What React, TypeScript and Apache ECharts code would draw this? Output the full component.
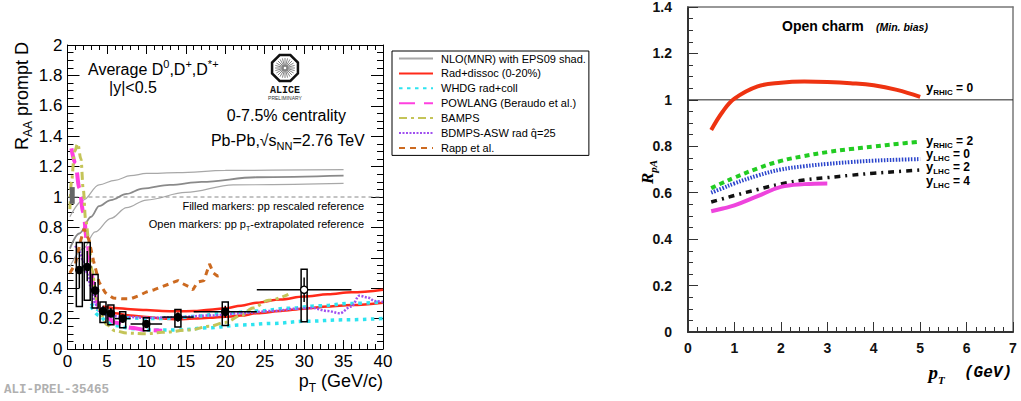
import { useEffect, useRef } from "react";
import * as echarts from "echarts";

const SANS = "'Liberation Sans', Arial, Helvetica, sans-serif";
const MONO = "'Liberation Mono', 'DejaVu Sans Mono', monospace";
const SERIF = "'Liberation Serif', 'DejaVu Serif', serif";

// ---------- Left panel: prompt D-meson R_AA, Pb-Pb 0-7.5% ----------
const ptCenter = [1.5, 2.5, 3.5, 4.5, 5.5, 7, 10, 14, 20, 30];
const ptHalfWidth = [0.5, 0.5, 0.5, 0.5, 0.5, 1, 2, 2, 4, 6];
const raaValue = [0.52, 0.545, 0.39, 0.255, 0.24, 0.2, 0.165, 0.21, 0.245, 0.39];
const raaStat = [0.12, 0.1, 0.05, 0.03, 0.03, 0.02, 0.025, 0.03, 0.04, 0.08];
const raaSysLow = [0.28, 0.32, 0.27, 0.175, 0.16, 0.14, 0.12, 0.145, 0.155, 0.18];
const raaSysHigh = [0.7, 0.7, 0.49, 0.31, 0.29, 0.245, 0.205, 0.26, 0.31, 0.525];
const openMarker = [0, 0, 0, 0, 0, 0, 0, 0, 0, 1];

// normalisation uncertainty at unity
const normBox = [[0.6, 0.955, 1.065]];

const nloUpper: number[][] = [[0.3, 0.87], [2, 0.98], [4, 1.08], [6, 1.11], [8, 1.14], [10, 1.155], [14, 1.16], [20, 1.175], [35, 1.18]];
const nloCentral: number[][] = [[0.3, 0.66], [1.5, 0.76], [3, 0.87], [4, 0.94], [5.5, 0.98], [7.5, 1.02], [9.5, 1.055], [13, 1.08], [17, 1.1], [24, 1.13], [35, 1.14]];
const nloLower: number[][] = [[0.3, 0.54], [2, 0.66], [3.5, 0.77], [5.5, 0.86], [7.5, 0.93], [10, 0.98], [15, 1.03], [21, 1.08], [35, 1.09]];
const unityLine: number[][] = [[0, 1], [40, 1]];

const radDissocUpper: number[][] = [[4.5, 0.28], [6, 0.27], [8, 0.262], [10, 0.256], [12, 0.25], [14, 0.248], [16, 0.25], [18, 0.258], [20, 0.268], [22, 0.285], [24, 0.305], [27, 0.325], [30, 0.345], [33, 0.36], [36, 0.373], [40, 0.39]];
const radDissocLower: number[][] = [[4.5, 0.255], [6, 0.235], [8, 0.22], [10, 0.21], [12, 0.2], [14, 0.195], [16, 0.2], [18, 0.205], [20, 0.212], [22, 0.22], [24, 0.235], [27, 0.25], [30, 0.265], [33, 0.28], [36, 0.29], [40, 0.305]];
const whdgUpper: number[][] = [[3, 0.3], [4, 0.255], [5, 0.23], [6, 0.215], [8, 0.205], [10, 0.2], [12, 0.2], [14, 0.205], [16, 0.215], [20, 0.235], [24, 0.25], [28, 0.268], [32, 0.285], [36, 0.3], [40, 0.31]];
const whdgLower: number[][] = [[3, 0.28], [4, 0.22], [5, 0.18], [6, 0.155], [8, 0.135], [10, 0.125], [14, 0.125], [18, 0.14], [22, 0.158], [26, 0.168], [30, 0.182], [35, 0.192], [40, 0.2]];
const powlang: number[][] = [[0.5, 1.32], [1, 1.22], [1.5, 1.06], [2, 0.9], [2.5, 0.7], [3, 0.5], [3.5, 0.35], [4, 0.27], [5, 0.21], [6, 0.175], [8, 0.14], [10, 0.125], [12, 0.12]];
const bamps: number[][] = [[0.3, 0.92], [0.5, 1.1], [0.9, 1.3], [1.3, 1.35], [1.7, 1.25], [2, 1.05], [2.3, 0.85], [2.7, 0.72], [3.1, 0.52], [3.7, 0.32], [4.3, 0.22], [5, 0.16], [6, 0.12], [7.5, 0.105], [10, 0.1], [12, 0.11], [15.5, 0.125], [18, 0.15], [20, 0.175], [22, 0.22], [23.5, 0.27], [25.5, 0.32], [28, 0.36]];
const bdmpsAsw: number[][] = [[1, 0.68], [1.5, 0.64], [2, 0.58], [2.5, 0.5], [3, 0.4], [3.5, 0.3], [4, 0.25], [5, 0.225], [6, 0.215], [8, 0.21], [10, 0.205], [14, 0.21], [18, 0.22], [22, 0.235], [26, 0.25], [29, 0.265], [31, 0.27], [33, 0.25], [34.5, 0.235], [36, 0.28], [37, 0.35], [38, 0.34], [39, 0.315], [40, 0.31]];
const rapp: number[][] = [[0.3, 0.5], [1, 0.56], [1.6, 0.7], [2.1, 0.79], [2.7, 0.72], [3.3, 0.58], [4, 0.44], [4.8, 0.37], [5.8, 0.335], [7, 0.33], [8, 0.33], [9, 0.35], [10, 0.375], [11, 0.39], [12, 0.41], [13, 0.43], [14, 0.45], [14.6, 0.43], [15.4, 0.41], [15.9, 0.39], [16.5, 0.44], [17.3, 0.45], [18, 0.56], [18.5, 0.5], [19, 0.48], [19.7, 0.49]];

const modelNames = [
  "NLO(MNR) with EPS09 shad.",
  "Rad+dissoc (0-20%)",
  "WHDG rad+coll",
  "POWLANG (Beraudo et al.)",
  "BAMPS",
  "BDMPS-ASW rad q\u0302=25",
  "Rapp et al.",
];

// ---------- Right panel: open charm R_pA ----------
const pAPt = [0.5, 0.75, 1, 1.5, 2, 2.5, 3, 3.5, 4, 4.5, 5];
const rpaRhicY0 = [0.87, 0.95, 1.005, 1.058, 1.074, 1.079, 1.077, 1.072, 1.063, 1.043, 1.013];
const rpaRhicY2 = [0.62, 0.643, 0.665, 0.705, 0.737, 0.758, 0.775, 0.788, 0.799, 0.81, 0.82];
const rpaLhcY0 = [0.6, 0.62, 0.64, 0.674, 0.7, 0.714, 0.724, 0.732, 0.738, 0.742, 0.745];
const rpaLhcY2 = [0.56, 0.574, 0.588, 0.614, 0.638, 0.655, 0.665, 0.675, 0.684, 0.691, 0.698];
const rpaLhcY4 = [0.52, 0.532, 0.545, 0.585, 0.625, 0.637, 0.64];

type Piece = { t: string; size: number; weight?: string; style?: string; dy?: number; dx?: number; family?: string; color?: string };

let measureCtx: CanvasRenderingContext2D | null = null;
function measure(p: Piece): number {
  if (!measureCtx) measureCtx = document.createElement("canvas").getContext("2d");
  const c = measureCtx!;
  c.font = `${p.style || "normal"} ${p.weight || "normal"} ${p.size}px ${p.family || SANS}`;
  return c.measureText(p.t).width;
}

// lays out a line of text pieces (sub/superscripts) on a common baseline
function textRun(pieces: Piece[], x0: number, baseline: number, align: "left" | "right" | "center" = "left") {
  const total = pieces.reduce((s, p) => s + measure(p) + (p.dx || 0), 0);
  let x = align === "left" ? x0 : align === "right" ? x0 - total : x0 - total / 2;
  const out: any[] = [];
  pieces.forEach((p) => {
    x += p.dx || 0;
    out.push({
      type: "text",
      x,
      y: baseline + (p.dy || 0) - 0.35 * p.size,
      silent: true,
      style: {
        text: p.t,
        fontSize: p.size,
        lineHeight: Math.round(p.size * 0.85),
        fontWeight: p.weight || "normal",
        fontStyle: p.style || "normal",
        fontFamily: p.family || SANS,
        fill: p.color || "#000",
        align: "left",
        verticalAlign: "middle",
      },
    });
    x += measure(p);
  });
  return out;
}

function aliceLogo(cx: number, cy: number, r: number) {
  const pts: number[][] = [];
  for (let i = 0; i < 8; i++) {
    const a = Math.PI / 8 + (i * Math.PI) / 4;
    pts.push([cx + r * Math.cos(a), cy + r * Math.sin(a)]);
  }
  const rays: any[] = [];
  for (let i = 0; i < 24; i++) {
    const a = (i * Math.PI) / 12;
    rays.push({
      type: "line",
      silent: true,
      shape: { x1: cx + 1.5 * Math.cos(a), y1: cy + 1.5 * Math.sin(a), x2: cx + (r - 4) * Math.cos(a), y2: cy + (r - 4) * Math.sin(a) },
      style: { stroke: "#666", lineWidth: 0.8 },
    });
  }
  return [
    { type: "polygon", silent: true, shape: { points: pts }, style: { fill: "#fff", stroke: "#111", lineWidth: 2.5 } },
    ...rays,
    { type: "text", silent: true, x: cx, y: cy + r + 8, style: { text: "ALICE", fontSize: 10, fontWeight: "bold", fontFamily: MONO, fill: "#111", align: "center", verticalAlign: "middle" } },
    { type: "text", silent: true, x: cx, y: cy + r + 16, style: { text: "PRELIMINARY", fontSize: 5, fontFamily: SANS, fill: "#333", align: "center", verticalAlign: "middle" } },
  ];
}

function lineSeries(name: string, data: number[][], color: string, width: number, type: any, axis: number, extra: any = {}) {
  return {
    name,
    type: "line",
    data,
    xAxisIndex: axis,
    yAxisIndex: axis,
    symbol: "none",
    showSymbol: false,
    smooth: 0.35,
    smoothMonotone: "x",
    lineStyle: { color, width, type, cap: "butt" },
    itemStyle: { color },
    emphasis: { disabled: true },
    ...extra,
  };
}

export default function App() {
  const ref = useRef<HTMLDivElement>(null);

  useEffect(() => {
    document.body.style.margin = "0";
    if (!ref.current) return;
    const chart = echarts.init(ref.current, null, { renderer: "svg" });

    const points = ptCenter.map((x, i) => [x, raaValue[i], ptHalfWidth[i], raaStat[i], raaSysLow[i], raaSysHigh[i], openMarker[i]]);

    const leftAxisBase = {
      type: "value",
      gridIndex: 0,
      splitLine: { show: false },
      minorSplitLine: { show: false },
      axisLine: { onZero: false, lineStyle: { color: "#000", width: 1 } },
    };
    const rightAxisBase = {
      type: "value",
      gridIndex: 1,
      splitLine: { show: false },
      minorSplitLine: { show: false },
    };
    const tickLabel = { fontSize: 17, lineHeight: 14, color: "#000", fontFamily: SANS };
    const boldLabel = { fontSize: 14, lineHeight: 12, color: "#111", fontFamily: SANS, fontWeight: "bold" };
    const rightPanelCurve = { smooth: 0.4, smoothMonotone: undefined };

    const graphics: any[] = [
      // left panel y title
      { type: "group", x: 28, y: 150, rotation: Math.PI / 2, children: textRun([{ t: "R", size: 18 }, { t: "AA", size: 12, dy: 4 }, { t: " prompt D", size: 18 }], 0, 0) },
      // left panel x title
      ...textRun([{ t: "p", size: 18 }, { t: "T", size: 12, dy: 5 }, { t: " (GeV/c)", size: 18 }], 383, 387, "right"),
      ...textRun([{ t: "Average D", size: 16 }, { t: "0", size: 11, dy: -7 }, { t: ",D", size: 16 }, { t: "+", size: 11, dy: -7 }, { t: ",D", size: 16 }, { t: "*+", size: 11, dy: -7 }], 88, 75),
      ...textRun([{ t: "|y|<0.5", size: 16 }], 133, 93, "center"),
      ...textRun([{ t: "0-7.5% centrality", size: 16 }], 346, 121, "right"),
      ...textRun([{ t: "Pb-Pb,", size: 16 }, { t: "\u221a", size: 16 }, { t: "s", size: 16 }, { t: "NN", size: 11, dy: 4 }, { t: "=2.76 TeV", size: 16 }], 365, 146, "right"),
      ...textRun([{ t: "Filled markers: pp rescaled reference", size: 11 }], 364, 210, "right"),
      ...textRun([{ t: "Open markers: pp p", size: 11 }, { t: "T", size: 7, dy: 3 }, { t: "-extrapolated reference", size: 11 }], 364, 228, "right"),
      ...textRun([{ t: "ALI-PREL-35465", size: 12.5, weight: "bold", family: MONO, color: "#b0b0b0" }], 4, 394),
      ...aliceLogo(285, 68, 14),
      // right panel titles
      ...textRun([{ t: "Open charm", size: 14, weight: "bold" }], 782, 31),
      ...textRun([{ t: "(Min. bias)", size: 10.5, weight: "bold", style: "italic" }], 876, 31),
      { type: "group", x: 653, y: 184, rotation: Math.PI / 2, children: textRun([{ t: "R", size: 17, weight: "bold", style: "italic", family: SERIF }, { t: "pA", size: 11, weight: "bold", style: "italic", family: SERIF, dy: 4 }], 0, 0) },
      ...textRun([{ t: "p", size: 19, weight: "bold", style: "italic", family: SERIF }, { t: "T", size: 11, weight: "bold", style: "italic", family: SERIF, dy: 5 }, { t: "  (GeV)", size: 16, weight: "bold", style: "italic", family: MONO }], 1012, 379, "right"),
      // curve labels
      ...textRun([{ t: "y", size: 13, weight: "bold" }, { t: "RHIC", size: 8, weight: "bold", dy: 3 }, { t: " = 0", size: 12, weight: "bold" }], 926, 92),
      ...textRun([{ t: "y", size: 13, weight: "bold" }, { t: "RHIC", size: 8, weight: "bold", dy: 3 }, { t: " = 2", size: 12, weight: "bold" }], 926, 145),
      ...textRun([{ t: "y", size: 13, weight: "bold" }, { t: "LHC", size: 8, weight: "bold", dy: 3 }, { t: " = 0", size: 12, weight: "bold" }], 926, 158),
      ...textRun([{ t: "y", size: 13, weight: "bold" }, { t: "LHC", size: 8, weight: "bold", dy: 3 }, { t: " = 2", size: 12, weight: "bold" }], 926, 171),
      ...textRun([{ t: "y", size: 13, weight: "bold" }, { t: "LHC", size: 8, weight: "bold", dy: 3 }, { t: " = 4", size: 12, weight: "bold" }], 926, 185),
    ];

    const option: any = {
      animation: false,
      backgroundColor: "#fff",
      grid: [
        { left: 67.5, top: 45, width: 315.5, height: 304, outerBoundsMode: "none" },
        { left: 688, top: 7, width: 325, height: 325, outerBoundsMode: "none" },
      ],
      legend: {
        orient: "vertical",
        left: 392,
        top: 51,
        itemWidth: 34,
        itemHeight: 12,
        itemGap: 3.9,
        padding: [2, 3, 2, 6],
        borderColor: "#000",
        borderWidth: 1,
        backgroundColor: "#fff",
        selectedMode: false,
        data: modelNames,
        itemStyle: { color: "rgba(0,0,0,0)", borderWidth: 0, opacity: 0 },
        textStyle: { fontSize: 11, fontFamily: SANS, color: "#000", padding: [0, 0, 0, 3] },
      },
      xAxis: [
        { ...leftAxisBase, min: 0, max: 40, interval: 5, position: "bottom", axisTick: { inside: true, length: 9, lineStyle: { color: "#000" } }, minorTick: { show: true, splitNumber: 5, length: 5, lineStyle: { color: "#000" } }, axisLabel: { ...tickLabel, margin: 5 } },
        { ...leftAxisBase, min: 0, max: 40, interval: 5, position: "top", axisTick: { inside: true, length: 9, lineStyle: { color: "#000" } }, minorTick: { show: true, splitNumber: 5, length: 5, lineStyle: { color: "#000" } }, axisLabel: { show: false } },
        { ...rightAxisBase, min: 0, max: 7, interval: 1, position: "bottom", axisLine: { onZero: false, lineStyle: { color: "#333", width: 2 } }, axisTick: { inside: true, length: 10, lineStyle: { color: "#333" } }, minorTick: { show: true, splitNumber: 5, length: 5, lineStyle: { color: "#333" } }, axisLabel: { ...boldLabel, margin: 10 } },
        { ...rightAxisBase, min: 0, max: 7, position: "top", axisLine: { onZero: false, lineStyle: { color: "#777", width: 1.5 } }, axisTick: { show: false }, axisLabel: { show: false } },
      ],
      yAxis: [
        { ...leftAxisBase, min: 0, max: 2, interval: 0.2, position: "left", axisTick: { inside: true, length: 12, lineStyle: { color: "#000" } }, minorTick: { show: true, splitNumber: 4, length: 6, lineStyle: { color: "#000" } }, axisLabel: { ...tickLabel, margin: 5 } },
        { ...leftAxisBase, min: 0, max: 2, interval: 0.2, position: "right", axisTick: { inside: true, length: 12, lineStyle: { color: "#000" } }, minorTick: { show: true, splitNumber: 4, length: 6, lineStyle: { color: "#000" } }, axisLabel: { show: false } },
        { ...rightAxisBase, min: 0, max: 1.4, interval: 0.2, position: "left", axisLine: { onZero: false, lineStyle: { color: "#333", width: 2 } }, axisTick: { inside: true, length: 10, lineStyle: { color: "#333" } }, minorTick: { show: true, splitNumber: 4, length: 5, lineStyle: { color: "#333" } }, axisLabel: { ...boldLabel, margin: 16 } },
        { ...rightAxisBase, min: 0, max: 1.4, position: "right", axisLine: { onZero: false, lineStyle: { color: "#777", width: 1.5 } }, axisTick: { show: false }, axisLabel: { show: false } },
      ],
      series: [
        lineSeries(modelNames[0], nloUpper, "#a8a8a8", 1.2, "solid", 0),
        lineSeries(modelNames[0], nloCentral, "#8a8a8a", 1.8, "solid", 0),
        lineSeries(modelNames[0], nloLower, "#a8a8a8", 1.2, "solid", 0),
        lineSeries("unity", unityLine, "#888", 1, [4, 3], 0, { smooth: false }),
        lineSeries(modelNames[1], radDissocUpper, "#ff2a1a", 2.5, "solid", 0),
        lineSeries(modelNames[1], radDissocLower, "#ff2a1a", 2.5, "solid", 0),
        lineSeries(modelNames[2], whdgUpper, "#2ee4f0", 3.5, [3.5, 4.5], 0),
        lineSeries(modelNames[2], whdgLower, "#2ee4f0", 3.5, [3.5, 4.5], 0),
        lineSeries(modelNames[3], powlang, "#ff40e0", 4, [16, 9], 0),
        lineSeries(modelNames[4], bamps, "#c4c458", 3, [8, 4, 3, 4], 0),
        lineSeries(modelNames[5], bdmpsAsw, "#a050f0", 2.5, [2, 1.5], 0),
        lineSeries(modelNames[6], rapp, "#cc6a20", 3, [6, 5], 0, { smooth: false }),
        {
          name: "norm",
          type: "custom",
          xAxisIndex: 0,
          yAxisIndex: 0,
          data: normBox,
          z: 5,
          renderItem: (_p: any, api: any) => {
            const top = api.coord([api.value(0), api.value(2)]);
            const bot = api.coord([api.value(0), api.value(1)]);
            return { type: "rect", shape: { x: top[0] - 2.5, y: top[1], width: 5, height: bot[1] - top[1] }, style: { fill: "#666" } };
          },
        },
        {
          name: "D mesons",
          type: "custom",
          xAxisIndex: 0,
          yAxisIndex: 0,
          data: points,
          z: 10,
          encode: { x: 0, y: 1 },
          renderItem: (_p: any, api: any) => {
            const x = api.value(0);
            const y = api.value(1);
            const xe = api.value(2);
            const st = api.value(3);
            const lo = api.value(4);
            const hi = api.value(5);
            const open = api.value(6);
            const c = api.coord([x, y]);
            const xl = api.coord([x - xe, y])[0];
            const xr = api.coord([x + xe, y])[0];
            const ys1 = api.coord([x, y + st])[1];
            const ys2 = api.coord([x, y - st])[1];
            const bt = api.coord([x, hi])[1];
            const bb = api.coord([x, lo])[1];
            const ink = { stroke: "#000", lineWidth: 1.5 };
            return {
              type: "group",
              children: [
                { type: "rect", shape: { x: c[0] - 3, y: bt, width: 6, height: bb - bt }, style: { fill: "none", ...ink } },
                { type: "line", shape: { x1: xl, y1: c[1], x2: xr, y2: c[1] }, style: ink },
                { type: "line", shape: { x1: c[0], y1: ys1, x2: c[0], y2: ys2 }, style: ink },
                { type: "circle", shape: { cx: c[0], cy: c[1], r: 3.6 }, style: { fill: open ? "#fff" : "#000", stroke: "#000", lineWidth: 1.3 } },
              ],
            };
          },
        },
        // right panel
        lineSeries("unity R_pA", [[0, 1], [7, 1]], "#222", 1, "solid", 2, { smooth: false }),
        lineSeries("y_RHIC = 0", pAPt.map((x, i) => [x, rpaRhicY0[i]]), "#ee3311", 4, "solid", 2, rightPanelCurve),
        lineSeries("y_RHIC = 2", pAPt.map((x, i) => [x, rpaRhicY2[i]]), "#22cc22", 4, [5, 4], 2, rightPanelCurve),
        lineSeries("y_LHC = 0", pAPt.map((x, i) => [x, rpaLhcY0[i]]), "#2a44cc", 4, [1.5, 1.5], 2, rightPanelCurve),
        lineSeries("y_LHC = 2", pAPt.map((x, i) => [x, rpaLhcY2[i]]), "#111", 3.5, [6, 5, 2, 5], 2, rightPanelCurve),
        lineSeries("y_LHC = 4", rpaLhcY4.map((y, i) => [pAPt[i], y]), "#ee44dd", 4, "solid", 2, rightPanelCurve),
      ],
      graphic: { elements: graphics.map((g) => ({ ...g, z: 100 })) },
    };

    chart.setOption(option);
    return () => chart.dispose();
  }, []);

  return <div ref={ref} style={{ width: 1021, height: 401 }} />;
}
